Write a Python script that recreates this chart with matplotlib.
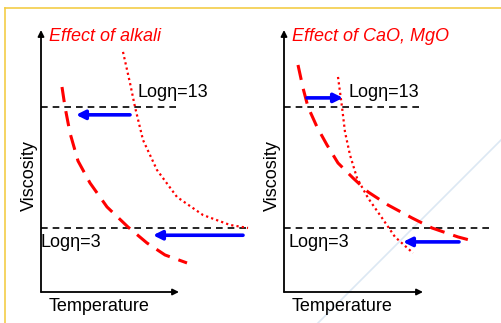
import numpy as np
import matplotlib
matplotlib.use("Agg")
import matplotlib.pyplot as plt

plt.rcParams['font.family'] = ['Liberation Sans', 'DejaVu Sans']

# viscosity reference levels (log eta)
levels = [13, 3]

# left panel: effect of alkali (temperature, log viscosity)
alk_dot_T = [8.2, 8.9, 9.4, 10.2, 11.6, 13.6, 16.2, 18.9, 20.7]
alk_dot_eta = [17.55, 14.98, 13.0, 10.27, 7.79, 5.56, 4.07, 3.25, 3.0]
alk_dash_T = [2.1, 2.4, 2.9, 3.7, 4.9, 6.6, 8.7, 10.6, 12.4, 14.6]
alk_dash_eta = [14.65, 13.0, 10.85, 8.54, 6.72, 4.74, 3.08, 1.76, 0.77, 0.11]

# right panel: effect of CaO, MgO
cao_dash_T = [1.4, 1.9, 2.4, 3.3, 4.3, 5.4, 6.9, 8.4, 10.4, 12.8, 14.8, 17.4, 18.8]
cao_dash_eta = [16.47, 14.57, 13.0, 11.35, 9.86, 8.37, 7.13, 5.98, 4.9, 3.83,
                3.0, 2.26, 1.95]
cao_dot_T = [5.4, 5.8, 6.1, 6.6, 7.3, 8.4, 9.8, 11.1, 12.9]
cao_dot_eta = [15.48, 13.0, 10.93, 9.03, 7.13, 5.48, 3.83, 2.26, 0.93]

# shift arrows (T from, T to, log eta)
alk_arrows = [(8.9, 3.5, 12.35), (20.2, 11.2, 2.4)]
cao_arrows = [(2.3, 5.9, 13.75), (17.5, 11.9, 1.85)]

W, H = 502, 323
fig = plt.figure(figsize=(W / 100, H / 100), dpi=100)

# slide decorations in pixel space
bg = fig.add_axes([0, 0, 1, 1], zorder=0)
bg.set_xlim(0, W)
bg.set_ylim(H, 0)
bg.axis('off')
bg.plot([5, W], [8, 8], color='#f3cd48', lw=1.2)
bg.plot([5, 5], [8, H], color='#f3cd48', lw=1.2)
bg.plot([318, W], [H, 139], color='#dce8f3', lw=1.2)

red = '#ff0000'
blue = '#0000ff'
ylo, yhi = -2.29, 19.36


def panel(x0, width, xmax, title, dotted, dashed, arrows, l13_end, l3_end,
          lab13_x, lab3_x, xarrow_end):
    ax = fig.add_axes([x0 / W, (H - 292) / H, width / W, (292 - 30) / H], zorder=1)
    ax.set_xlim(0, xmax)
    ax.set_ylim(ylo, yhi)
    ax.patch.set_alpha(0)
    for s in ax.spines.values():
        s.set_visible(False)
    ax.set_xticks([])
    ax.set_yticks([])

    # axes arrows
    ax.annotate('', xy=(0, yhi), xytext=(0, ylo),
                arrowprops=dict(arrowstyle='-|>', color='black', lw=1.3,
                                mutation_scale=9, shrinkA=0, shrinkB=0),
                annotation_clip=False)
    ax.annotate('', xy=(xarrow_end, ylo), xytext=(0, ylo),
                arrowprops=dict(arrowstyle='-|>', color='black', lw=1.3,
                                mutation_scale=9, shrinkA=0, shrinkB=0),
                annotation_clip=False)

    ax.plot([0, l13_end], [levels[0]] * 2, color='black', lw=1.2,
            dashes=(4, 3), clip_on=False)
    ax.plot([0, l3_end], [levels[1]] * 2, color='black', lw=1.2,
            dashes=(4, 3), clip_on=False)

    ax.plot(dotted[0], dotted[1], color=red, lw=1.6, linestyle=(0, (1, 1.4)),
            clip_on=False)
    ax.plot(dashed[0], dashed[1], color=red, lw=2.2, dashes=(5, 3), clip_on=False)

    for t0, t1, e in arrows:
        ax.annotate('', xy=(t1, e), xytext=(t0, e),
                    arrowprops=dict(arrowstyle='-|>', color=blue, lw=2.6,
                                    mutation_scale=13, shrinkA=0, shrinkB=0),
                    annotation_clip=False)

    ax.text(lab13_x, 14.16, 'Log\u03b7=13', fontsize=13, va='center', ha='left')
    ax.text(lab3_x, 1.84, 'Log\u03b7=3', fontsize=13, va='center', ha='left')
    ax.text(0.8, 18.8, title, fontsize=13, style='italic', color=red,
            va='center', ha='left')
    ax.text(-1.2, 7.3, 'Viscosity', fontsize=13, rotation=90,
            va='center', ha='center')
    ax.text(0.8, -3.45, 'Temperature', fontsize=13, va='center', ha='left')
    return ax


panel(41, 210, 21.0, 'Effect of alkali', (alk_dot_T, alk_dot_eta),
      (alk_dash_T, alk_dash_eta), alk_arrows, 13.8, 20.9, 9.7, 0.0, 13.8)
panel(284, 218, 21.8, 'Effect of CaO, MgO', (cao_dot_T, cao_dot_eta),
      (cao_dash_T, cao_dash_eta), cao_arrows, 14.0, 20.7, 6.4, 0.4, 13.9)

fig.savefig('out.png', dpi=100)
